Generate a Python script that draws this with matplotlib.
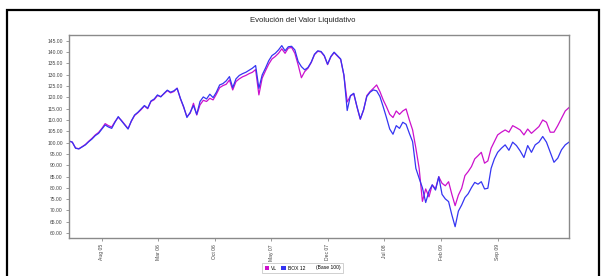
import numpy as np
import pandas as pd
import matplotlib
matplotlib.use("Agg")
import matplotlib.pyplot as plt
import matplotlib.dates as mdates
from matplotlib.lines import Line2D
from matplotlib.patches import Patch

# --- Data (Base 100) ---
# samples were read at even steps along the plot; these anchors tie
# sample numbers to calendar dates (axis start, Aug 05, Sep 09, axis end)
anchor_idx = [0, 10, 131, 150]
anchor_dates = ["2005-03-30", "2005-08-01", "2009-09-01", "2010-05-28"]

box12 = [
    100.7, 100.2, 97.5, 97.2, 98.1, 99.0, 100.4, 101.6, 103.1, 104.1,
    106.0, 107.8, 106.9, 106.3, 109.0, 111.5, 109.6, 107.8, 106.0, 109.6,
    112.2, 113.4, 114.9, 116.4, 115.2, 118.4, 119.3, 121.1, 120.2, 121.8,
    123.2, 122.3, 122.9, 124.0, 119.6, 115.9, 111.1, 113.4, 116.4, 112.5,
    118.2, 120.2, 119.3, 121.4, 119.9, 122.3, 125.5, 126.1, 127.3, 129.2,
    124.3, 128.2, 129.7, 130.5, 131.1, 132.0, 132.9, 134.1, 124.0, 129.9,
    132.9, 136.2, 138.5, 139.5, 141.0, 142.9, 140.6, 142.4, 142.6, 141.0,
    135.9, 133.6, 132.2, 133.2, 135.6, 139.1, 140.6, 140.3, 138.5, 134.7,
    138.1, 140.0, 138.5, 137.0, 129.9, 114.2, 120.8, 121.8, 115.9, 110.5,
    114.5, 120.4, 122.3, 123.3, 122.9, 120.4, 115.9, 111.1, 106.0, 103.7,
    107.5, 106.3, 109.0, 108.1, 104.1, 100.4, 88.6, 84.2, 80.0, 73.5,
    78.5, 81.3, 79.0, 84.9, 77.1, 75.1, 73.9, 68.0, 62.8, 69.7,
    72.4, 75.7, 77.4, 80.1, 82.4, 81.6, 82.7, 79.5, 79.8, 88.6,
    92.8, 95.7, 97.5, 99.0, 96.6, 100.2, 98.7, 96.3, 93.4, 98.7,
    95.7, 99.0, 100.2, 102.7, 100.2, 95.7, 91.3, 93.1, 96.8, 99.0,
    100.2,
]

vl = [
    100.7, 100.2, 97.6, 97.3, 98.2, 99.2, 100.6, 101.9, 103.4, 104.5,
    106.3, 108.4, 107.5, 106.9, 109.3, 111.2, 109.8, 108.0, 106.2, 109.4,
    112.0, 113.2, 114.6, 116.2, 115.0, 118.2, 119.0, 120.8, 120.4, 121.6,
    123.0, 122.0, 122.6, 124.1, 119.4, 115.6, 111.5, 113.0, 117.4, 112.2,
    116.7, 118.7, 118.2, 119.6, 118.9, 121.4, 124.3, 125.2, 125.8, 127.7,
    123.3, 127.0, 128.2, 129.1, 129.7, 130.5, 131.1, 132.3, 121.1, 128.5,
    131.7, 134.7, 137.0, 138.1, 139.5, 141.5, 139.5, 141.8, 142.1, 139.5,
    134.4, 128.7, 131.4, 132.9, 135.4, 138.9, 140.4, 140.1, 138.3, 134.5,
    137.9, 139.8, 138.3, 136.8, 129.7, 118.0, 120.6, 121.6, 115.7, 110.3,
    114.3, 120.8, 122.6, 124.0, 125.5, 122.6, 118.9, 115.9, 112.5, 111.1,
    114.0, 112.5, 114.0, 114.9, 110.0, 105.6, 97.5, 88.6, 74.0, 79.5,
    76.0, 81.3, 79.5, 84.9, 82.0, 80.9, 82.7, 77.1, 72.1, 76.8,
    79.8, 85.4, 87.2, 89.4, 92.8, 94.2, 95.7, 90.9, 91.9, 97.5,
    100.4, 103.4, 104.6, 105.6, 104.6, 107.5, 106.6, 105.6, 103.4, 106.0,
    104.1, 105.6, 107.1, 110.0, 109.0, 104.6, 104.6, 107.5, 110.8, 114.0,
    115.5,
]

tick_dates = ["2005-08-01", "2006-03-01", "2006-10-01", "2007-05-01",
              "2007-12-01", "2008-07-01", "2009-02-01", "2009-09-01"]
tick_labels = ["Aug 05", "Mar 06", "Oct 06", "May 07",
               "Dec 07", "Jul 08", "Feb 09", "Sep 09"]
y_ticks = list(range(60, 150, 5))

COLOR_VL = "#CC11CC"
COLOR_BOX = "#3535F2"
GRAY = "#8a8a8a"

anchor_num = mdates.date2num(pd.to_datetime(anchor_dates))
dates = mdates.num2date(np.interp(np.arange(len(box12)), anchor_idx, anchor_num))

plt.rcParams["font.family"] = ["Liberation Sans", "DejaVu Sans"]

fig = plt.figure(figsize=(6.05, 2.76), dpi=100)

# outer black frame (open at the bottom, like the reference crop)
fx0, fx1, fy1 = 7 / 605, 599 / 605, 1 - 10 / 276
fig.add_artist(Line2D([fx0, fx0, fx1, fx1], [0, fy1, fy1, 0],
                      transform=fig.transFigure, color="black",
                      linewidth=1.6, solid_joinstyle="miter"))

ax = fig.add_axes([69 / 605, 1 - 238 / 276, 500 / 605, 203 / 276])

ax.plot(dates, vl, color=COLOR_VL, linewidth=0.9)
ax.plot(dates, box12, color=COLOR_BOX, linewidth=0.9)

ax.set_xlim(dates[0], dates[-1])
ax.set_ylim(57.8, 147.6)
ax.set_yticks(y_ticks)
ax.set_yticklabels([f"{v:.2f}" for v in y_ticks])
ax.set_xticks(pd.to_datetime(tick_dates))
ax.set_xticklabels(tick_labels, rotation=90)

for s in ax.spines.values():
    s.set_color(GRAY)
    s.set_linewidth(1.0)
ax.tick_params(axis="both", labelsize=3.6, colors=GRAY, labelcolor="#444444",
               length=2.5, width=0.6, pad=2)

fig.text(0.5, 1 - 21 / 276, "Evolución del Valor Liquidativo",
         ha="center", va="center", fontsize=5.6, color="#222222")

handles = [Patch(facecolor=COLOR_VL, edgecolor="none"),
           Patch(facecolor=COLOR_BOX, edgecolor="none"),
           Patch(facecolor="none", edgecolor="none")]
leg = fig.legend(handles, ["VL", "BOX 12", "(Base 100)"], ncol=3,
                 loc="center", bbox_to_anchor=(0.5, 1 - 268 / 276),
                 fontsize=3.6, frameon=True, fancybox=False,
                 handlelength=0.9, handleheight=0.9, handletextpad=0.4,
                 columnspacing=0.8, borderpad=0.5)
leg.get_frame().set_edgecolor("#bbbbbb")
leg.get_frame().set_linewidth(0.6)

fig.savefig("out.png", dpi=100)
